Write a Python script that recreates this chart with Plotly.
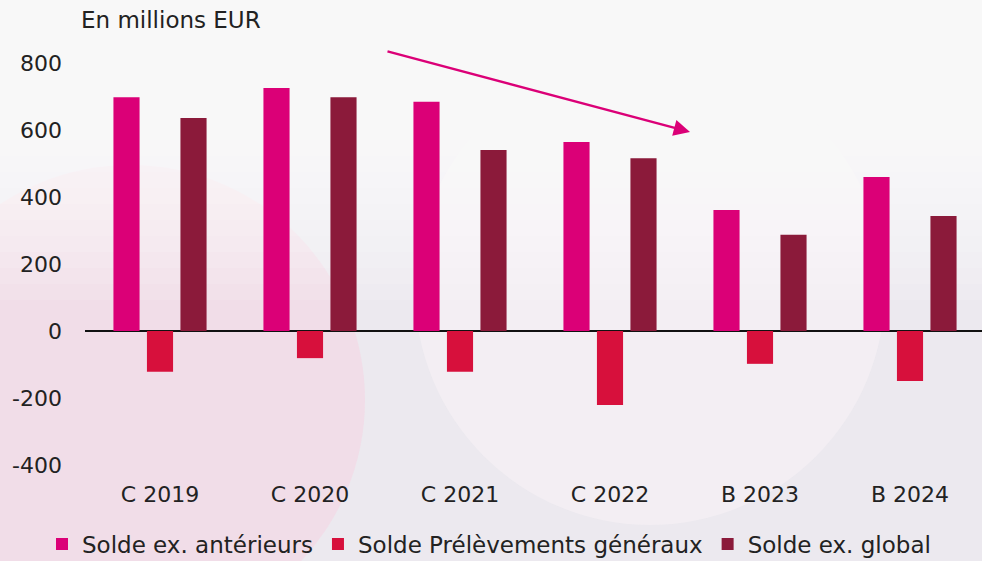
import plotly.graph_objects as go

# Categories and series (millions EUR)
categories = ["C 2019", "C 2020", "C 2021", "C 2022", "B 2023", "B 2024"]
solde_anterieurs = [698, 725, 684, 564, 361, 460]
solde_prelevements = [-122, -81, -122, -221, -98, -149]
solde_global = [636, 698, 540, 516, 287, 343]
y_ticks = [-400, -200, 0, 200, 400, 600, 800]
y_tick_text = ["-400", "-200", "0", "200", "400", "600", "800"]

FONT = "DejaVu Sans"
TXT = "#222222"
W, H = 982, 561
ML, MR, MT, MB = 85, 0, 63, 96
PW, PH = W - ML - MR, H - MT - MB


def px_x(px):
    return (px - ML) / PW


def px_y(py):
    return (H - MB - py) / PH


fig = go.Figure()
series = [
    ("Solde ex. antérieurs", solde_anterieurs, "#DB0077"),
    ("Solde Prélèvements généraux", solde_prelevements, "#D7103C"),
    ("Solde ex. global", solde_global, "#8B1A3A"),
]
for name, vals, color in series:
    fig.add_trace(go.Bar(
        x=categories, y=vals, name=name,
        marker=dict(color=color, line=dict(width=0)),
    ))

# Decorative background: two soft discs under a white wash that fades downwards
shapes = [
    dict(type="circle", xref="paper", yref="paper",
         x0=px_x(-105), x1=px_x(365), y0=px_y(635), y1=px_y(165),
         fillcolor="rgba(242,218,230,0.85)", line=dict(width=0), layer="below"),
    dict(type="circle", xref="paper", yref="paper",
         x0=px_x(415), x1=px_x(885), y0=px_y(525), y1=px_y(55),
         fillcolor="rgba(250,243,247,0.5)", line=dict(width=0), layer="below"),
]
bands = 16
for i in range(bands):
    bottom = 60 + i * 16
    shapes.append(dict(type="rect", xref="paper", yref="paper",
                       x0=px_x(-10), x1=px_x(W + 10), y0=px_y(bottom), y1=px_y(-10),
                       fillcolor="rgba(255,255,255,0.12)", line=dict(width=0), layer="below"))

fig.update_layout(
    width=W, height=H,
    margin=dict(l=ML, r=MR, t=MT, b=MB, autoexpand=False),
    paper_bgcolor="#ece9ef",
    plot_bgcolor="rgba(0,0,0,0)",
    barmode="group",
    bargap=0.33,
    bargroupgap=0.22,
    font=dict(family=FONT, color=TXT, size=22),
    showlegend=True,
    legend=dict(orientation="h", xref="container", x=42 / W, xanchor="left",
                yref="container", y=(H - 544) / H, yanchor="middle",
                font=dict(size=23, family=FONT, color=TXT),
                itemwidth=30, bgcolor="rgba(0,0,0,0)", traceorder="normal"),
    xaxis=dict(range=[-0.5, 5.48], showgrid=False, showline=False, zeroline=False,
               ticks="", tickfont=dict(size=22), ticklabelstandoff=14, automargin=False),
    yaxis=dict(range=[-400, 800], tickvals=y_ticks, ticktext=y_tick_text,
               showgrid=False, showline=False,
               zeroline=True, zerolinecolor="#111111", zerolinewidth=1.5,
               ticks="", tickfont=dict(size=22), ticklabelstandoff=22, automargin=False),
    shapes=shapes,
    annotations=[
        dict(text="En millions EUR", xref="paper", yref="paper",
             x=px_x(79), y=px_y(20), xanchor="left", yanchor="middle", showarrow=False,
             font=dict(size=23, family=FONT, color=TXT)),
        dict(text="", xref="paper", yref="paper",
             x=px_x(690), y=px_y(132),
             ax=386 - 690, ay=51 - 132, axref="pixel", ayref="pixel",
             showarrow=True, arrowhead=2, arrowsize=1.3, arrowwidth=2.5,
             arrowcolor="#DB0077"),
    ],
)

fig.write_html("out.html")
